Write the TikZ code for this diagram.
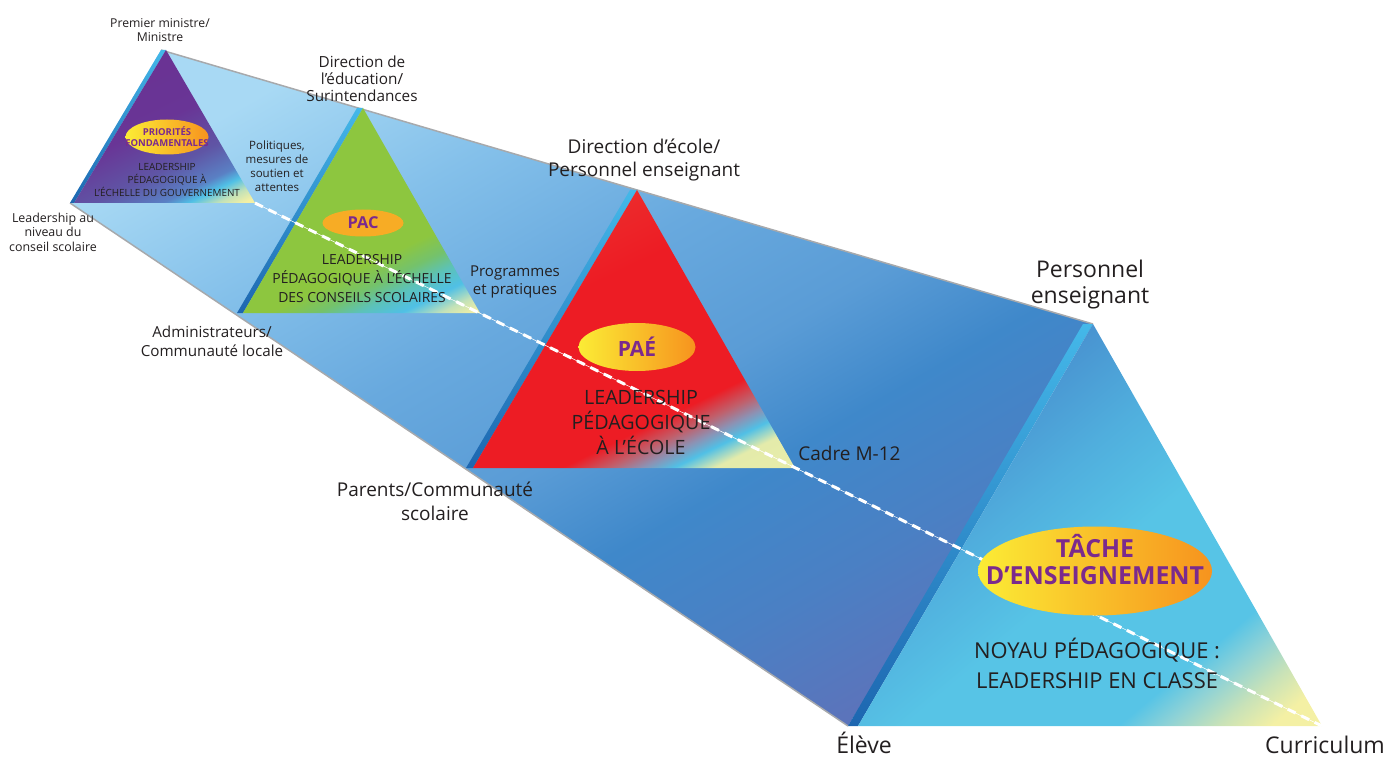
\documentclass[tikz,border=0pt]{standalone}
\usepackage{fontspec}
\setmainfont{Open Sans}
\usetikzlibrary{shapes.geometric}

\definecolor{labtext}{HTML}{231F20}
\definecolor{pilltxt}{HTML}{7B2A8D}
\definecolor{pilla}{HTML}{FBEC35}
\definecolor{pillb}{HTML}{F7931E}
\definecolor{pillc}{HTML}{F7AC25}
\definecolor{edgegray}{HTML}{A7A9AC}
\definecolor{stripa}{HTML}{44B8E9}
\definecolor{stripb}{HTML}{1D66B0}
\definecolor{triyellow}{HTML}{F4F0A4}
\definecolor{tricyan}{HTML}{50C0E6}
\definecolor{bodya}{HTML}{A8D9F4}
\definecolor{bodyb}{HTML}{84C0EA}
\definecolor{bodyc}{HTML}{68A9DE}
\definecolor{bodyd}{HTML}{5A9CD6}
\definecolor{bodye}{HTML}{3F88CA}
\definecolor{bodyf}{HTML}{4A80C4}
\definecolor{bodyg}{HTML}{5B74BB}
\definecolor{purpa}{HTML}{6B2F8F}
\definecolor{purpb}{HTML}{693596}
\definecolor{purpc}{HTML}{5F55A5}
\definecolor{purpd}{HTML}{5A80C4}
\definecolor{greena}{HTML}{8DC63F}
\definecolor{greenb}{HTML}{74C26C}
\definecolor{greenc}{HTML}{5CC2B8}
\definecolor{reda}{HTML}{EA5040}
\definecolor{redb}{HTML}{ED1C24}
\definecolor{redc}{HTML}{C0606C}
\definecolor{redd}{HTML}{8C92B4}
\definecolor{bluea}{HTML}{4890CF}
\definecolor{blueb}{HTML}{50AEDD}
\definecolor{bluec}{HTML}{57C4E6}
\definecolor{blued}{HTML}{8ED2D6}
\definecolor{bluee}{HTML}{C8E2B8}

% font size given in pixels of the picture
\newcommand{\fpx}[2]{\fontsize{\fpeval{#1*0.569}pt}{\fpeval{#2*0.569}pt}\selectfont}

\pgfdeclarehorizontalshading{prism}{100bp}{color(0bp)=(bodya); color(24bp)=(bodya); color(34bp)=(bodyb); color(44bp)=(bodyc); color(53bp)=(bodyd); color(60bp)=(bodye); color(68bp)=(bodyf); color(76bp)=(bodyg); color(100bp)=(bodyg)}
\pgfdeclarehorizontalshading{purpletri}{100bp}{color(0bp)=(purpa); color(48bp)=(purpb); color(62bp)=(purpc); color(71bp)=(purpd); color(74.5bp)=(tricyan); color(78.5bp)=(triyellow!70!tricyan); color(82bp)=(triyellow); color(100bp)=(triyellow)}
\pgfdeclarehorizontalshading{greentri}{100bp}{color(0bp)=(greena); color(62bp)=(greena); color(67bp)=(greenb); color(71bp)=(greenc); color(75.5bp)=(tricyan); color(79.5bp)=(triyellow!70!tricyan); color(83bp)=(triyellow); color(100bp)=(triyellow)}
\pgfdeclarehorizontalshading{redtri}{100bp}{color(0bp)=(reda); color(40bp)=(redb); color(66bp)=(redb); color(69.5bp)=(redc); color(72bp)=(redd); color(74.4bp)=(tricyan); color(77.5bp)=(triyellow!90!tricyan); color(100bp)=(triyellow)}
\pgfdeclarehorizontalshading{bluetri}{100bp}{color(0bp)=(bluea); color(31bp)=(bluea); color(43bp)=(blueb); color(54bp)=(bluec); color(70bp)=(bluec); color(73.5bp)=(blued); color(77.5bp)=(bluee); color(81.5bp)=(triyellow); color(100bp)=(triyellow)}

\tikzset{lab/.style = {align = center, inner sep = 0, text = labtext},
  edge/.style = {draw = edgegray, line width = 0.85pt},
  stripfill/.style = {top color = stripa, bottom color = stripb},
  pill/.style = {ellipse, inner sep = 0, left color = pilla, right color = pillb},
  pillflat/.style = {ellipse, inner sep = 0, fill = pillc},
  pilltext/.style = {align = center, inner sep = 0, text = pilltxt},
  guide/.style = {white, line width = 1.7pt, dash pattern = on 5pt off 3.5pt},
  guidethin/.style = {white, line width = 0.3pt}}

\begin{document}
\begin{tikzpicture}[x=0.2mm, y=-0.2mm]
  \useasboundingbox (0, 0) rectangle (1386, 759);

  % apex, left and right corner, outer strip top and bottom of each section
  \coordinate (a1) at (166, 50);   \coordinate (l1) at (74, 203);   \coordinate (r1) at (255, 203);
  \coordinate (p1) at (161, 50);   \coordinate (q1) at (70, 203);
  \coordinate (a2) at (363, 108);  \coordinate (l2) at (243, 313);  \coordinate (r2) at (480, 313);
  \coordinate (p2) at (357, 108);  \coordinate (q2) at (237, 313);
  \coordinate (a3) at (637, 190);  \coordinate (l3) at (473, 468);  \coordinate (r3) at (795, 468);
  \coordinate (p3) at (630, 190);  \coordinate (q3) at (466, 468);
  \coordinate (a4) at (1093, 324); \coordinate (l4) at (858, 726); \coordinate (r4) at (1322, 726);
  \coordinate (p4) at (1083, 324); \coordinate (q4) at (848, 726);

  \shade [shading = prism, shading angle = -60] (p1) -- (a4) -- (q4) -- (q1) -- cycle;
  \draw [edge] (p1) -- (a4);
  \draw [edge] (q1) -- (q4);

  \foreach \i in {1, ..., 4} {
    \shade [stripfill] (p\i) -- (a\i) -- (l\i) -- (q\i) -- cycle;
  }
  \shade [shading = purpletri, shading angle = -64] (a1) -- (l1) -- (r1) -- cycle;
  \shade [shading = greentri, shading angle = -64] (a2) -- (l2) -- (r2) -- cycle;
  \shade [shading = redtri, shading angle = -64] (a3) -- (l3) -- (r3) -- cycle;
  \shade [shading = bluetri, shading angle = -50] (a4) -- (l4) -- (r4) -- cycle;

  \draw [guidethin] (r1) -- (r4);
  \draw [guide] (r1) -- (r4);

  \node [pill, minimum width = 16.6mm, minimum height = 7mm] (e1) at (167, 137) {};
  \node [pilltext, font = \fpx{9.5}{11}\bfseries] at (e1) {PRIORITÉS\\FONDAMENTALES};
  \node [lab, font = \fpx{9.9}{13}] (t1) at (167, 180) {LEADERSHIP\\PÉDAGOGIQUE À\\L’ÉCHELLE DU GOUVERNEMENT};

  \node [pillflat, minimum width = 16.2mm, minimum height = 5.4mm] (e2) at (363, 223) {};
  \node [pilltext, font = \fpx{16.4}{18}\bfseries] at (e2) {PAC};
  \node [lab, font = \fpx{13.9}{19}] (t2) at (362, 279) {LEADERSHIP\\PÉDAGOGIQUE À L’ÉCHELLE\\DES CONSEILS SCOLAIRES};

  \node [pill, minimum width = 23.4mm, minimum height = 9.6mm] (e3) at (637, 347) {};
  \node [pilltext, font = \fpx{21}{24}\bfseries] at (e3) {PAÉ};
  \node [lab, font = \fpx{19.7}{25}] (t3) at (641, 422) {LEADERSHIP\\PÉDAGOGIQUE\\À L’ÉCOLE};

  \node [pill, minimum width = 46.8mm, minimum height = 17.8mm] (e4) at (1095, 571) {};
  \node [pilltext, font = \fpx{24.9}{27}\bfseries] at (1095, 560) {TÂCHE\\D’ENSEIGNEMENT};
  \node [lab, font = \fpx{21.9}{30}] (t4) at (1097, 663) {NOYAU PÉDAGOGIQUE :\\LEADERSHIP EN CLASSE};

  \node [lab, font = \fpx{12.2}{13.5}] (pm) at (160, 30) {Premier ministre/\\Ministre};
  \node [lab, font = \fpx{15.3}{17}] (de) at (362, 79) {Direction de\\l’éducation/\\Surintendances};
  \node [lab, font = \fpx{19}{22.5}] (dp) at (644, 160) {Direction d’école/\\Personnel enseignant};
  \node [lab, font = \fpx{23}{26}] (pe) at (1090, 285) {Personnel\\enseignant};
  \node [lab, font = \fpx{12.4}{14.5}] (lc) at (53, 232) {Leadership au\\niveau du\\conseil scolaire};
  \node [lab, font = \fpx{11.5}{14}] (po) at (277, 166) {Politiques,\\mesures de\\soutien et\\attentes};
  \node [lab, font = \fpx{15.2}{19}] (ad) at (212, 341) {Administrateurs/\\Communauté locale};
  \node [lab, font = \fpx{15}{18}] (pr) at (515, 282) {Programmes\\et pratiques};
  \node [lab, font = \fpx{19}{24}] (pc) at (435, 501) {Parents/Communauté\\scolaire};
  \node [lab, font = \fpx{19}{22}, anchor = west] (cm) at (798, 453) {Cadre M-12};
  \node [lab, font = \fpx{23}{26}] (el) at (864, 743) {Élève};
  \node [lab, font = \fpx{23}{26}] (cu) at (1325, 745) {Curriculum};
\end{tikzpicture}
\end{document}
